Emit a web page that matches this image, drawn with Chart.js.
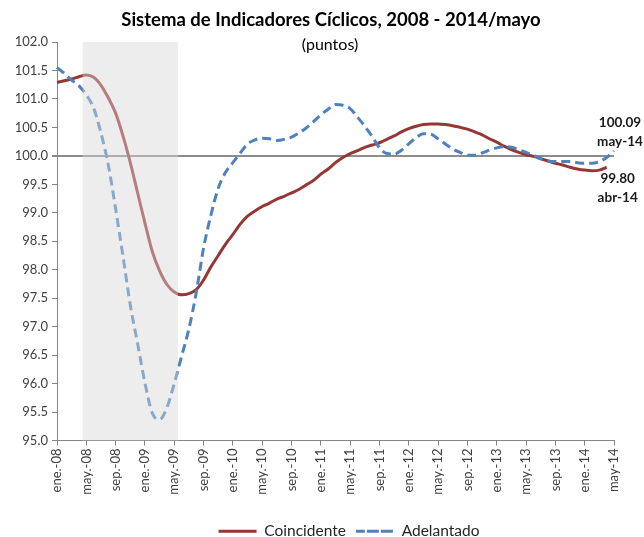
<!DOCTYPE html>
<html lang="es">
<head>
<meta charset="utf-8">
<title>Sistema de Indicadores Cíclicos</title>
<script src="https://cdn.jsdelivr.net/npm/chart.js@4.4.1/dist/chart.umd.min.js"></script>
<style>
  html, body { margin: 0; padding: 0; background: #ffffff; }
  #wrap { width: 644px; height: 537px; }
</style>
</head>
<body>
<div id="wrap"><canvas id="ciclicos" width="644" height="537"></canvas></div>
<script>
// ================= Data =================
const monthNames = ["ene", "feb", "mar", "abr", "may", "jun", "jul", "ago", "sep", "oct", "nov", "dic"];
const firstYear = 2008;
const monthCount = 77; // ene-08 .. may-14

const tickLabels = [
    "ene.-08", "may.-08", "sep.-08", "ene.-09", "may.-09", "sep.-09", "ene.-10",
    "may.-10", "sep.-10", "ene.-11", "may.-11", "sep.-11", "ene.-12", "may.-12",
    "sep.-12", "ene.-13", "may.-13", "sep.-13", "ene.-14", "may-14"
];

// months shaded as recession (indices into the categories)
const recessionStart = 4;   // may-08
const recessionEnd = 16;    // may-09

const coincidente = [
    101.29, 101.32, 101.35, 101.39, 101.42, 101.38, 101.24, 101.02, 100.75, 100.35,
    99.88, 99.35, 98.82, 98.32, 97.98, 97.74, 97.61, 97.56, 97.58, 97.65,
    97.82, 98.05, 98.25, 98.45, 98.62, 98.80, 98.94, 99.03, 99.11, 99.17,
    99.24, 99.29, 99.35, 99.41, 99.49, 99.57, 99.68, 99.77, 99.88, 99.97,
    100.04, 100.09, 100.15, 100.19, 100.23, 100.29, 100.35, 100.42, 100.48, 100.52,
    100.55, 100.56, 100.56, 100.55, 100.53, 100.50, 100.47, 100.42, 100.37, 100.30,
    100.24, 100.17, 100.11, 100.06, 100.02, 99.99, 99.95, 99.91, 99.87, 99.84,
    99.80, 99.77, 99.75, 99.74, 99.75, 99.80
];

const adelantado = [
    101.55, 101.45, 101.33, 101.23, 101.07, 100.84, 100.40, 99.84, 99.07, 98.24,
    97.38, 96.70, 96.01, 95.48, 95.37, 95.58, 96.00, 96.48, 96.96, 97.60,
    98.38, 98.96, 99.43, 99.71, 99.88, 100.05, 100.21, 100.28, 100.31, 100.30,
    100.27, 100.29, 100.33, 100.40, 100.49, 100.60, 100.72, 100.82, 100.90, 100.89,
    100.83, 100.68, 100.52, 100.34, 100.14, 100.04, 100.03, 100.10, 100.21, 100.32,
    100.39, 100.38, 100.30, 100.21, 100.12, 100.06, 100.01, 100.01, 100.05, 100.10,
    100.14, 100.16, 100.15, 100.11, 100.06, 100.01, 99.95, 99.91, 99.90, 99.90,
    99.90, 99.88, 99.87, 99.87, 99.90, 99.97, 100.09
];

const yMin = 95, yMax = 102, yStep = 0.5, refLevel = 100;

// ================= Helpers =================
function monthLabel(i) {
    const y = String(firstYear + Math.floor(i / 12)).slice(2);
    return monthNames[i % 12] + "-" + y;
}

const categories = Array.from({ length: monthCount }, (_, i) => monthLabel(i));

// ================= Plugins =================
// grey recession band, laid over the lines like in the original
const recessionBand = {
    id: "recessionBand",
    afterDatasetsDraw(chart) {
        const { ctx, chartArea, scales: { x } } = chart;
        const half = (x.getPixelForValue(1) - x.getPixelForValue(0)) / 2;
        const left = x.getPixelForValue(recessionStart) - half;
        const right = x.getPixelForValue(recessionEnd) + half;
        ctx.save();
        ctx.fillStyle = "rgba(216,216,216,0.45)";
        ctx.fillRect(left, chartArea.top, right - left, chartArea.bottom - chartArea.top);
        ctx.restore();
    }
};

const chartTitle = {
    id: "chartTitle",
    afterDraw(chart) {
        const ctx = chart.ctx;
        ctx.save();
        ctx.fillStyle = "#000000";
        ctx.textAlign = "center";
        ctx.textBaseline = "middle";
        ctx.font = "bold 18.5px Lato, sans-serif";
        ctx.fillText("Sistema de Indicadores Cíclicos, 2008 - 2014/mayo", 331, 20);
        ctx.font = "16px Lato, sans-serif";
        ctx.fillText("(puntos)", 330, 45);
        ctx.restore();
    }
};

const endLabels = {
    id: "endLabels",
    afterDatasetsDraw(chart) {
        const { ctx, scales: { x, y } } = chart;
        ctx.save();
        ctx.fillStyle = "#1a1a1a";
        ctx.textAlign = "center";
        ctx.textBaseline = "middle";
        ctx.font = "bold 13.5px Lato, sans-serif";

        const ia = adelantado.length - 1;
        const xa = x.getPixelForValue(ia) + 6;
        const ya = y.getPixelForValue(adelantado[ia]);
        ctx.fillText(adelantado[ia].toFixed(2), xa, ya - 28);
        ctx.fillText(monthLabel(ia), xa, ya - 9);

        const ic = coincidente.length - 1;
        const xc = x.getPixelForValue(ic) + 11;
        const yc = y.getPixelForValue(coincidente[ic]);
        ctx.fillText(coincidente[ic].toFixed(2), xc, yc + 11);
        ctx.fillText(monthLabel(ic), xc, yc + 30);
        ctx.restore();
    }
};

// nudge the legend to where the original sits
const legendShift = {
    id: "legendShift",
    afterLayout(chart) {
        const lg = chart.legend;
        lg.left += 42;
        lg.right += 42;
        lg.top += 12;
        lg.bottom += 12;
    }
};

// ================= Chart =================
Chart.defaults.font.family = "Lato, 'Open Sans', sans-serif";
Chart.defaults.color = "#404040";

const axisGrey = "#868686";

new Chart(document.getElementById("ciclicos"), {
    type: "line",
    data: {
        labels: categories,
        datasets: [
            {
                label: "Coincidente",
                data: coincidente,
                borderColor: "#953735",
                backgroundColor: "#953735",
                borderWidth: 3,
                pointRadius: 0,
                cubicInterpolationMode: "monotone",
                order: 2
            },
            {
                label: "Adelantado",
                data: adelantado,
                borderColor: "#4f81bd",
                backgroundColor: "#4f81bd",
                borderWidth: 3,
                borderDash: [9, 5],
                pointRadius: 0,
                cubicInterpolationMode: "monotone",
                order: 1
            }
        ]
    },
    options: {
        responsive: false,
        animation: false,
        devicePixelRatio: 1,
        layout: {
            padding: { top: 42, right: 30, bottom: 0, left: 0 }
        },
        plugins: {
            legend: {
                position: "bottom",
                labels: {
                    sort: (a, b) => a.datasetIndex - b.datasetIndex,
                    boxWidth: 38,
                    boxHeight: 0,
                    padding: 10,
                    color: "#262626",
                    font: { size: 15.5 }
                }
            },
            tooltip: { enabled: false }
        },
        scales: {
            x: {
                offset: false,
                grid: {
                    offset: false,
                    drawOnChartArea: false,
                    tickLength: 5,
                    tickColor: ctx => ctx.index % 4 === 0 ? axisGrey : "rgba(0,0,0,0)"
                },
                border: { color: axisGrey, width: 1 },
                ticks: {
                    autoSkip: false,
                    maxRotation: 90,
                    minRotation: 90,
                    padding: 3,
                    font: { size: 13 },
                    callback: (v, i) => i % 4 === 0 ? tickLabels[i / 4] : ""
                },
                afterFit: scale => { scale.height = 61; }
            },
            y: {
                min: yMin,
                max: yMax,
                grid: {
                    color: ctx => ctx.tick && ctx.tick.value === refLevel ? "#8c8c8c" : "rgba(0,0,0,0)",
                    lineWidth: ctx => ctx.tick && ctx.tick.value === refLevel ? 2 : 1,
                    tickColor: axisGrey,
                    tickLength: 5
                },
                border: { color: axisGrey, width: 1 },
                ticks: {
                    stepSize: yStep,
                    padding: 4,
                    font: { size: 13 },
                    callback: v => Number(v).toFixed(1)
                },
                afterFit: scale => { scale.width = 57; }
            }
        }
    },
    plugins: [recessionBand, chartTitle, endLabels, legendShift]
});
</script>
</body>
</html>
